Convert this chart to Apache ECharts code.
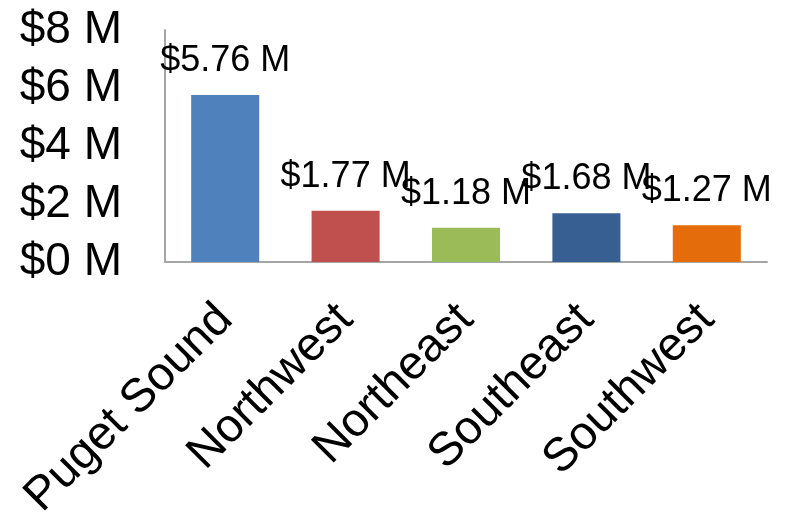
<!DOCTYPE html>
<html>
<head>
<meta charset="utf-8">
<script src="https://cdn.jsdelivr.net/npm/echarts@6/dist/echarts.min.js"></script>
<style>
html,body{margin:0;padding:0;background:#fff;}
#chart{width:788px;height:515px;}
</style>
</head>
<body>
<div id="chart"></div>
<script>
const categories = ['Puget Sound', 'Northwest', 'Northeast', 'Southeast', 'Southwest'];
const values = [5.76, 1.77, 1.18, 1.68, 1.27];
const barColors = ['#4F81BD', '#C0504D', '#9BBB59', '#375F92', '#E46C0A'];
const yTicks = [0, 2, 4, 6, 8];

const chart = echarts.init(document.getElementById('chart'));
chart.setOption({
  animation: false,
  backgroundColor: '#ffffff',
  grid: { left: 165, right: 21, top: 30, bottom: 253, containLabel: false, outerBoundsMode: 'none' },
  xAxis: {
    type: 'category',
    data: categories,
    axisLine: { show: true, lineStyle: { color: '#A6A6A6', width: 2 } },
    axisTick: { show: false },
    axisLabel: {
      rotate: 45,
      interval: 0,
      margin: 50,
      fontFamily: 'Liberation Sans, Arial, sans-serif',
      fontSize: 47,
      color: '#000'
    }
  },
  yAxis: {
    type: 'value',
    min: yTicks[0],
    max: yTicks[yTicks.length - 1],
    interval: 2,
    splitLine: { show: false },
    axisLine: { show: true, lineStyle: { color: '#A6A6A6', width: 2 } },
    axisTick: { show: false },
    axisLabel: {
      margin: 43,
      fontFamily: 'Liberation Sans, Arial, sans-serif',
      fontSize: 46,
      color: '#000',
      formatter: v => '$' + v + ' M'
    }
  },
  series: [{
    type: 'bar',
    data: values.map((v, i) => ({ value: v, itemStyle: { color: barColors[i] } })),
    barWidth: '56.5%',
    label: {
      show: true,
      position: 'top',
      distance: 16,
      fontFamily: 'Liberation Sans, Arial, sans-serif',
      fontSize: 36,
      color: '#000',
      formatter: p => '$' + p.value.toFixed(2) + ' M'
    }
  }]
});
</script>
</body>
</html>
